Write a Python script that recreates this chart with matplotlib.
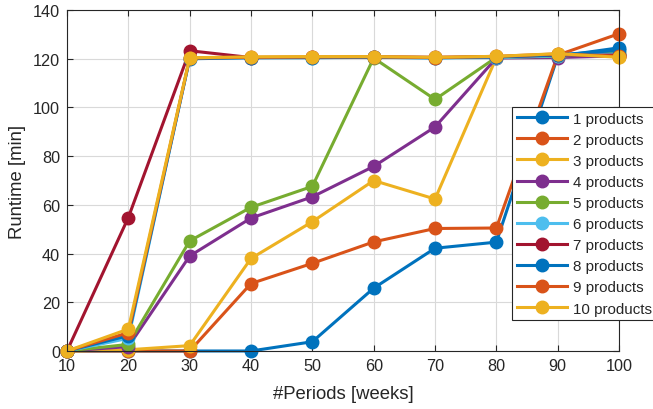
import matplotlib
matplotlib.use("Agg")
import matplotlib.pyplot as plt

plt.rcParams['font.family'] = ['Liberation Sans', 'DejaVu Sans']

periods = [10, 20, 30, 40, 50, 60, 70, 80, 90, 100]
labels = [f"{i} products" for i in range(1, 11)]
colors = ["#0072BD", "#D95319", "#EDB120", "#7E2F8E", "#77AC30",
          "#4DBEEE", "#A2142F", "#0072BD", "#D95319", "#EDB120"]

runtime_1 = [0, 0, 0, 0, 3.8, 25.8, 42.2, 44.7, 121.0, 124.5]
runtime_2 = [0, 0, 0, 27.7, 36.0, 44.8, 50.3, 50.5, 121.5, 130.3]
runtime_3 = [0, 0.5, 2.2, 38.0, 53.1, 70.0, 62.4, 120.5, 121.8, 120.8]
runtime_4 = [0, 1.8, 39.0, 54.6, 63.3, 75.8, 92.0, 120.3, 120.5, 121.2]
runtime_5 = [0, 2.7, 45.2, 59.0, 67.6, 120.3, 103.3, 120.6, 121.0, 122.5]
runtime_6 = [0, 5.2, 120.2, 120.5, 120.4, 120.6, 120.3, 120.5, 121.2, 122.0]
runtime_7 = [0, 54.8, 123.3, 120.5, 120.6, 120.8, 120.6, 120.8, 121.5, 121.5]
runtime_8 = [0, 6.3, 120.0, 120.4, 120.5, 120.6, 120.4, 120.8, 121.6, 123.5]
runtime_9 = [0, 7.5, 120.3, 120.6, 120.7, 120.8, 120.5, 121.0, 122.0, 121.0]
runtime_10 = [0, 9.0, 120.4, 120.8, 120.9, 120.9, 120.6, 121.0, 122.1, 120.6]

series = [runtime_1, runtime_2, runtime_3, runtime_4, runtime_5,
          runtime_6, runtime_7, runtime_8, runtime_9, runtime_10]

fig = plt.figure(figsize=(6.53, 4.10), dpi=100)
ax = fig.add_axes([0.1026, 0.1415, 0.8454, 0.8315])

for y, lab, c in zip(series, labels, colors):
    ax.plot(periods, y, '-o', color=c, lw=2.2, ms=9, label=lab, clip_on=False)

ax.set_xlim(10, 100)
ax.set_ylim(0, 140)
ax.set_xticks(periods)
ax.set_yticks(range(0, 141, 20))
ax.grid(True, color='#d9d9d9', lw=0.8)
ax.set_axisbelow(True)
ax.tick_params(direction='in', top=True, right=True, labelsize=11.7,
               colors='#262626', length=4, pad=5)
for s in ax.spines.values():
    s.set_color('#262626')
    s.set_linewidth(0.8)
ax.set_xlabel('#Periods [weeks]', fontsize=13.3, color='#262626', labelpad=9)
ax.set_ylabel('Runtime [min]', fontsize=13.3, color='#262626', labelpad=5)

leg = ax.legend(loc='upper left', bbox_to_anchor=(512/653, (410-108)/410),
                bbox_transform=fig.transFigure, fontsize=10.9, fancybox=False,
                framealpha=1, edgecolor='#262626', handlelength=3.3,
                borderpad=0.3, labelspacing=0.47, handletextpad=0.45,
                borderaxespad=0)
leg.get_frame().set_linewidth(0.8)
for t in leg.get_texts():
    t.set_color('#262626')

fig.savefig('out.png', dpi=100)
